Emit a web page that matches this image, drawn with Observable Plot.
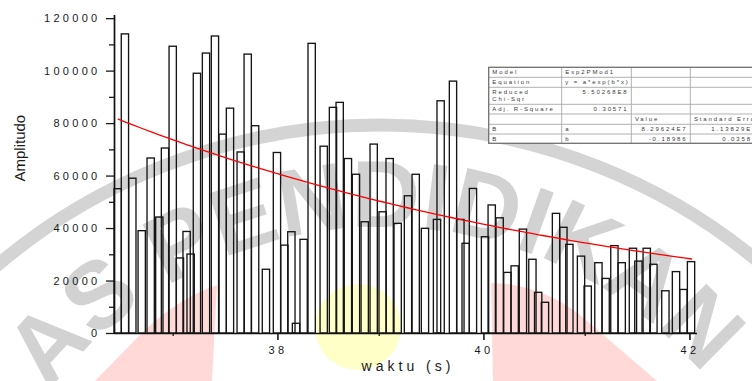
<!DOCTYPE html>
<html>
<head>
<meta charset="utf-8">
<script src="https://cdn.jsdelivr.net/npm/d3@7"></script>
<script src="https://cdn.jsdelivr.net/npm/@observablehq/plot@0.6"></script>
<style>
  html, body { margin: 0; padding: 0; background: #fff; overflow: hidden; width: 752px; height: 381px; }
  #wrap { position: relative; width: 752px; height: 381px; overflow: hidden; font-family: "Liberation Sans", Arial, sans-serif; }
  #wm, #chart, #tbl { position: absolute; left: 0; top: 0; }
  #wm { z-index: 0; } #chart { z-index: 1; } #tbl { z-index: 2; }
  #chart svg, #wm svg, #tbl svg { display: block; }
  [aria-label="y-axis tick label"] text, [aria-label="x-axis tick label"] text { letter-spacing: 3.3px; }
</style>
</head>
<body>
<div id="wrap"><div id="wm"></div><div id="chart"></div><div id="tbl"></div></div>
<script>
// ---------- data ----------
const times = [36.466, 36.536, 36.608, 36.699, 36.786, 36.870, 36.925, 37.000, 37.070, 37.135,
  37.174, 37.235, 37.323, 37.410, 37.485, 37.556, 37.660, 37.728, 37.800, 37.905,
  38.012, 38.084, 38.152, 38.197, 38.271, 38.349, 38.466, 38.556, 38.621, 38.701,
  38.779, 38.864, 38.951, 39.038, 39.106, 39.184, 39.284, 39.359, 39.449, 39.566,
  39.601, 39.721, 39.793, 39.844, 39.915, 40.032, 40.097, 40.174, 40.249, 40.320,
  40.400, 40.492, 40.548, 40.614, 40.721, 40.793, 40.851, 40.964, 41.029, 41.133,
  41.203, 41.288, 41.359, 41.468, 41.521, 41.602, 41.667, 41.783, 41.886, 41.958, 42.032];
const amplitudes = [55000, 114000, 59000, 39000, 66700, 44200, 70500, 109300, 28600, 38700,
  30100, 99000, 106700, 113200, 75800, 85700, 69000, 106300, 79000, 24300,
  68800, 33500, 38600, 3700, 35700, 110400, 71200, 86000, 87900, 66500,
  60500, 42400, 72000, 46200, 66500, 41800, 52300, 60500, 39900, 43300,
  88500, 96000, 43300, 34200, 55100, 36700, 48800, 43900, 23100, 25600,
  39600, 28100, 15500, 11700, 45600, 40300, 33800, 29300, 17900, 26800,
  20800, 33300, 26800, 32300, 27400, 32300, 26200, 16100, 23400, 16600, 27200];
const yTickValues = [0, 20000, 40000, 60000, 80000, 100000, 120000];
const yMinorTicks = [10000, 30000, 50000, 70000, 90000, 110000];
const xTickValues = [38, 40, 42];
const xMinorTicks = [37, 39, 41];
const fitA = 8.29624e7;
const fitB = -0.18986;
const xLabel = "waktu (s)";
const yLabel = "Amplitudo";
const tableRows = [
  ["Model", "Exp2PMod1", "", ""],
  ["Equation", "y = a*exp(b*x)", "", ""],
  ["Reduced\nChi-Sqr", "5.50268E8", "", ""],
  ["Adj. R-Square", "0.30571", "", ""],
  ["", "", "Value", "Standard Error"],
  ["B", "a", "8.29624E7", "1.13829E7"],
  ["B", "b", "-0.18986", "0.03586"]
];
const watermarkText = "UNIVERSITAS PENDIDIKAN INDONESIA";

// ---------- watermark (background) ----------
const W = 752, H = 381;
const wm = d3.select("#wm").append("svg").attr("width", W).attr("height", H);
wm.append("path").attr("d", "M95,381 L140,335 Q175,300 217,285 L212,381 Z").attr("fill", "#ffd8d8");
wm.append("path").attr("d", "M491,283 Q540,284 580,315 L657,381 L493,381 Z").attr("fill", "#ffd8d8");
wm.append("circle").attr("cx", 358).attr("cy", 327).attr("r", 43).attr("fill", "#ffffc8");
wm.append("circle").attr("cx", 380).attr("cy", 717).attr("r", 592)
  .attr("fill", "none").attr("stroke", "#d4d4d4").attr("stroke-width", 13);
// letters placed one by one along an arc
const cx = 383, cy = 648, rb = 421;
const fontWM = { "font-family": "Liberation Sans, Arial, sans-serif", "font-weight": "bold", "font-size": 95 };
const measure = s => {
  const t = wm.append("text").attr("x", -1000).attr("y", -1000);
  Object.entries(fontWM).forEach(([k, v]) => t.attr(k, v));
  t.text(s);
  const w = t.node().getComputedTextLength();
  t.remove();
  return w;
};
const sIndex = watermarkText.indexOf("S PEND");
const startS = (90 - 44.1) * Math.PI / 180 * rb;   // arc length of the left edge of that "S"
let offset = startS - measure(watermarkText.slice(0, sIndex));
const glyphs = wm.append("g").attr("fill", "#d2d2d2");
for (const ch of watermarkText) {
  const w = measure(ch === " " ? "\u00a0" : ch);
  const mid = offset + w / 2;
  const theta = -Math.PI / 2 + mid / rb;
  if (ch !== " " && Math.abs(theta) < 0.9) {
    const px = cx + rb * Math.sin(theta), py = cy - rb * Math.cos(theta);
    const g = glyphs.append("text")
      .attr("transform", `translate(${px.toFixed(1)},${py.toFixed(1)}) rotate(${(theta * 180 / Math.PI).toFixed(2)})`)
      .attr("text-anchor", "middle");
    Object.entries(fontWM).forEach(([k, v]) => g.attr(k, v));
    g.text(ch);
  }
  offset += w;
}

// ---------- chart ----------
const data = times.map((t, i) => ({ t, amp: amplitudes[i] }));
const hw = 0.0354;
const xDomain = [36.43, 42.09];
const chart = Plot.plot({
  width: W, height: H,
  marginLeft: 114, marginRight: 55, marginTop: 15, marginBottom: 48,
  x: { domain: xDomain },
  y: { domain: [0, 121200] },
  style: { background: "transparent", fontFamily: "Liberation Sans, Arial, sans-serif", color: "#1a1a1a" },
  marks: [
    Plot.rect(data, { x1: d => d.t - hw, x2: d => d.t + hw, y1: 0, y2: "amp", inset: 0,
      fill: "none", stroke: "#151515", strokeWidth: 1.35 }),
    Plot.line(data, { x: "t", y: d => fitA * Math.exp(fitB * d.t), stroke: "#ff0000", strokeWidth: 1.3 }),
    Plot.axisY(yTickValues, { tickSize: 8, tickPadding: 6, fontSize: 11, tickFormat: d => String(d), label: null, strokeWidth: 1.3 }),
    Plot.axisY(yMinorTicks, { tickSize: 5, fill: "none", tickFormat: () => "", label: null, strokeWidth: 1.3 }),
    Plot.axisX(xTickValues, { tickSize: 7, tickPadding: 6, fontSize: 11, dx: 1.7, tickFormat: d => String(d), label: null, strokeWidth: 1.6 }),
    Plot.axisX(xMinorTicks, { tickSize: 3, fill: "none", tickFormat: () => "", label: null, strokeWidth: 1.3 }),
    Plot.ruleX([xDomain[0]], { stroke: "#111", strokeWidth: 1.7 }),
    Plot.ruleY([0], { stroke: "#111", strokeWidth: 1.7 }),
    Plot.text([yLabel], { frameAnchor: "left", rotate: -90, dx: -94, dy: 7, fontSize: 15, fill: "#1a1a1a" }),
    Plot.text([xLabel], { frameAnchor: "bottom", dy: 37, dx: 2, fontSize: 14, fill: "#1a1a1a" })
  ]
});
document.getElementById("chart").appendChild(chart);
d3.select(chart).selectAll("text").filter(function () { return this.textContent === xLabel; })
  .attr("letter-spacing", "4px");

// ---------- fit table ----------
const colX = [488.7, 561.7, 631.3, 690.3, 760];
const rowY = [67.3, 77.3, 87.3, 104.3, 114, 124.3, 134, 143.3];
const tbl = d3.select("#tbl").append("svg").attr("width", W).attr("height", H);
tbl.append("rect").attr("x", colX[0]).attr("y", rowY[0])
  .attr("width", colX[4] - colX[0]).attr("height", rowY[7] - rowY[0]).attr("fill", "#fff");
colX.slice(1, 4).forEach(x => tbl.append("line").attr("x1", x).attr("x2", x).attr("y1", rowY[0]).attr("y2", rowY[7])
  .attr("stroke", "#a8a8a8").attr("stroke-width", 0.9));
rowY.slice(1, 7).forEach(y => tbl.append("line").attr("x1", colX[0]).attr("x2", colX[4]).attr("y1", y).attr("y2", y)
  .attr("stroke", "#a8a8a8").attr("stroke-width", 0.9));
tbl.append("rect").attr("x", colX[0]).attr("y", rowY[0])
  .attr("width", colX[4] - colX[0]).attr("height", rowY[7] - rowY[0])
  .attr("fill", "none").attr("stroke", "#707070").attr("stroke-width", 1.3);
const isNum = s => /^-?[0-9.]+(E-?[0-9]+)?$/.test(s);
tableRows.forEach((row, r) => {
  row.forEach((cell, c) => {
    if (!cell) return;
    const lines = cell.split("\n");
    const right = c > 0 && isNum(cell);
    lines.forEach((ln, k) => {
      tbl.append("text")
        .attr("x", right ? colX[c + 1] - 2.7 : colX[c] + 3.6)
        .attr("y", rowY[r] + 6.9 + k * 6.8)
        .attr("text-anchor", right ? "end" : "start")
        .attr("font-family", "Liberation Sans, Arial, sans-serif")
        .attr("font-size", 6).attr("letter-spacing", "1.9px")
        .attr("fill", "#3a3a3a").text(ln);
    });
  });
});
</script>
</body>
</html>
